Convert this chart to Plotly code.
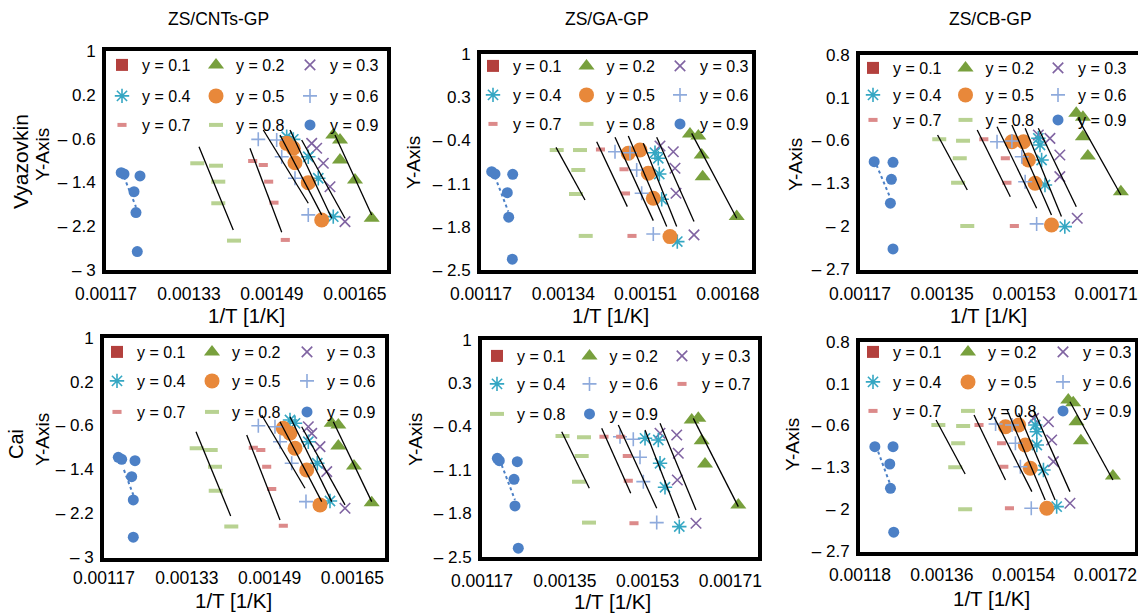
import plotly.graph_objects as go

W, H = 1138, 614
FONT = "Liberation Sans, Arial, Helvetica, sans-serif"

# ======================= DATA =======================
SERIES = [0.1, 0.2, 0.3, 0.4, 0.5, 0.6, 0.7, 0.8, 0.9]

# ---- Panel 1 : Vyazovkin, ZS/CNTs-GP ----
p1_s1_x = []
p1_s1_y = []
p1_s2_x = [0.0016082, 0.0016212, 0.0016212, 0.0016501, 0.0016823]
p1_s2_y = [-0.534, -0.626, -0.991, -1.356, -2.056]
p1_s3_x = [0.0015666, 0.0015762, 0.0015890, 0.0016019, 0.0016308]
p1_s3_y = [-0.686, -0.777, -1.051, -1.479, -2.118]
p1_s4_x = [0.0015184, 0.0015311, 0.0015600, 0.0015793, 0.0016082]
p1_s4_y = [-0.565, -0.613, -0.931, -1.325, -2.027]
p1_s5_x = [0.0015184, 0.0015311, 0.0015344, 0.0015600, 0.0015859]
p1_s5_y = [-0.686, -0.777, -1.040, -1.405, -2.087]
p1_s6_x = [0.0014636, 0.0014991, 0.0015088, 0.0015344, 0.0015600]
p1_s6_y = [-0.613, -0.626, -0.931, -1.325, -1.995]
p1_s7_x = [0.0014528, 0.0014733, 0.0014836, 0.0014939, 0.0015157]
p1_s7_y = [-1.009, -1.082, -1.387, -1.771, -2.452]
p1_s8_x = [0.0013460, 0.0013821, 0.0013865, 0.0013865, 0.0014168]
p1_s8_y = [-1.051, -1.095, -1.387, -1.782, -2.465]
p1_s9_x = [0.0011993, 0.0012047, 0.0012356, 0.0012240, 0.0012278, 0.0012303]
p1_s9_y = [-1.223, -1.247, -1.283, -1.570, -1.953, -2.666]
p1_f2_x = [0.0016115, 0.0016823]; p1_f2_y = [-0.534, -1.995]
p1_f3_x = [0.0015473, 0.0016308]; p1_f3_y = [-0.626, -2.056]
p1_f4_x = [0.0015248, 0.0016052]; p1_f4_y = [-0.443, -2.056]
p1_f5_x = [0.0015055, 0.0015859]; p1_f5_y = [-0.534, -1.995]
p1_f6_x = [0.0014733, 0.0015600]; p1_f6_y = [-0.443, -1.782]
p1_f7_x = [0.0014476, 0.0015088]; p1_f7_y = [-0.777, -2.311]
p1_f8_x = [0.0013493, 0.0014154]; p1_f8_y = [-0.748, -2.269]
p1_f9_x = [0.0012047, 0.0012278]; p1_f9_y = [-1.300, -1.850]

# ---- Panel 2 : Vyazovkin, ZS/GA-GP ----
p2_s1_x = []
p2_s1_y = []
p2_s2_x = [0.0016017, 0.0016189, 0.0016259, 0.0016279, 0.0016982]
p2_s2_y = [-0.296, -0.329, -0.637, -0.988, -1.636]
p2_s3_x = [0.0015397, 0.0015672, 0.0015707, 0.0015728, 0.0016100]
p2_s3_y = [-0.491, -0.583, -0.852, -1.257, -1.933]
p2_s4_x = [0.0015294, 0.0015362, 0.0015383, 0.0015433, 0.0015755]
p2_s4_y = [-0.599, -0.690, -0.944, -1.354, -2.041]
p2_s5_x = [0.0014743, 0.0014984, 0.0015156, 0.0015259, 0.0015604]
p2_s5_y = [-0.609, -0.556, -0.933, -1.338, -1.960]
p2_s6_x = [0.0014468, 0.0014778, 0.0014916, 0.0015019, 0.0015259]
p2_s6_y = [-0.583, -0.599, -0.880, -1.257, -1.917]
p2_s7_x = [0.0014168, 0.0014654, 0.0014685, 0.0014819]
p2_s7_y = [-0.547, -0.868, -1.260, -1.949]
p2_s8_x = [0.0013264, 0.0013745, 0.0013710, 0.0013662, 0.0013863]
p2_s8_y = [-0.556, -0.556, -0.880, -1.269, -1.949]
p2_s9_x = [0.0011921, 0.0011989, 0.0012355, 0.0012243, 0.0012272, 0.0012347]
p2_s9_y = [-0.907, -0.944, -0.949, -1.247, -1.646, -2.327]
p2_f2_x = [0.0016052, 0.0016982]; p2_f2_y = [-0.285, -1.662]
p2_f3_x = [0.0015329, 0.0016100]; p2_f3_y = [-0.350, -1.717]
p2_f4_x = [0.0015053, 0.0015742]; p2_f4_y = [-0.447, -1.798]
p2_f5_x = [0.0014743, 0.0015536]; p2_f5_y = [-0.329, -1.798]
p2_f6_x = [0.0014468, 0.0015259]; p2_f6_y = [-0.350, -1.701]
p2_f7_x = [0.0014090, 0.0014722]; p2_f7_y = [-0.421, -1.474]
p2_f8_x = [0.0013249, 0.0013848]; p2_f8_y = [-0.512, -1.366]
p2_f9_x = [0.0011989, 0.0012264]; p2_f9_y = [-0.988, -1.555]

# ---- Panel 3 : Vyazovkin, ZS/CB-GP ----
p3_s1_x = []
p3_s1_y = []
p3_s2_x = [0.0016446, 0.0016591, 0.0016591, 0.0016700, 0.0017424]
p3_s2_y = [-0.157, -0.222, -0.538, -0.852, -1.434]
p3_s3_x = [0.0015613, 0.0015867, 0.0016085, 0.0016085, 0.0016467]
p3_s3_y = [-0.510, -0.564, -0.836, -1.189, -1.867]
p3_s4_x = [0.0015613, 0.0015650, 0.0015685, 0.0015759, 0.0016194]
p3_s4_y = [-0.564, -0.673, -0.917, -1.324, -2.003]
p3_s5_x = [0.0015033, 0.0015287, 0.0015396, 0.0015541, 0.0015902]
p3_s5_y = [-0.620, -0.620, -0.917, -1.297, -1.976]
p3_s6_x = [0.0014707, 0.0015033, 0.0015250, 0.0015324, 0.0015576]
p3_s6_y = [-0.620, -0.608, -0.864, -1.271, -1.959]
p3_s7_x = [0.0014417, 0.0014889, 0.0014924, 0.0015087]
p3_s7_y = [-0.580, -0.890, -1.287, -1.992]
p3_s8_x = [0.0013439, 0.0013961, 0.0013889, 0.0013852, 0.0014054]
p3_s8_y = [-0.580, -0.603, -0.890, -1.287, -1.992]
p3_s9_x = [0.0012011, 0.0012424, 0.0012389, 0.0012367, 0.0012424]
p3_s9_y = [-0.945, -0.955, -1.232, -1.622, -2.366]
p3_f2_x = [0.0016483, 0.0017424]; p3_f2_y = [-0.239, -1.487]
p3_f3_x = [0.0015613, 0.0016446]; p3_f3_y = [-0.401, -1.678]
p3_f4_x = [0.0015324, 0.0016120]; p3_f4_y = [-0.401, -1.840]
p3_f5_x = [0.0015033, 0.0015902]; p3_f5_y = [-0.348, -1.813]
p3_f6_x = [0.0014707, 0.0015576]; p3_f6_y = [-0.375, -1.704]
p3_f7_x = [0.0014272, 0.0014998]; p3_f7_y = [-0.429, -1.515]
p3_f8_x = [0.0013402, 0.0014054]; p3_f8_y = [-0.510, -1.406]
p3_f9_x = [0.0012063, 0.0012367]; p3_f9_y = [-0.999, -1.541]

# ---- Panel 4 : Cai, ZS/CNTs-GP ----
p4_s1_x = []
p4_s1_y = []
p4_s2_x = [0.0016100, 0.0016228, 0.0016228, 0.0016531, 0.0016873]
p4_s2_y = [-0.560, -0.591, -0.973, -1.336, -2.004]
p4_s3_x = [0.0015648, 0.0015714, 0.0015874, 0.0016004, 0.0016357]
p4_s3_y = [-0.622, -0.742, -0.985, -1.440, -2.105]
p4_s4_x = [0.0015294, 0.0015391, 0.0015648, 0.0015822, 0.0016067]
p4_s4_y = [-0.500, -0.560, -0.895, -1.287, -1.973]
p4_s5_x = [0.0015165, 0.0015294, 0.0015391, 0.0015617, 0.0015874]
p4_s5_y = [-0.651, -0.742, -1.015, -1.409, -2.045]
p4_s6_x = [0.0014682, 0.0015004, 0.0015101, 0.0015327, 0.0015603]
p4_s6_y = [-0.604, -0.622, -0.895, -1.287, -1.985]
p4_s7_x = [0.0014585, 0.0014730, 0.0014844, 0.0014941, 0.0015165]
p4_s7_y = [-1.004, -1.045, -1.349, -1.755, -2.422]
p4_s8_x = [0.0013491, 0.0013762, 0.0013845, 0.0013859, 0.0014160]
p4_s8_y = [-1.015, -1.045, -1.349, -1.785, -2.440]
p4_s9_x = [0.0011976, 0.0012042, 0.0012299, 0.0012235, 0.0012266, 0.0012266]
p4_s9_y = [-1.178, -1.215, -1.240, -1.531, -1.955, -2.633]
p4_f2_x = [0.0016131, 0.0016873]; p4_f2_y = [-0.531, -1.985]
p4_f3_x = [0.0015520, 0.0016357]; p4_f3_y = [-0.622, -2.045]
p4_f4_x = [0.0015294, 0.0016100]; p4_f4_y = [-0.440, -1.985]
p4_f5_x = [0.0015101, 0.0015907]; p4_f5_y = [-0.531, -1.985]
p4_f6_x = [0.0014747, 0.0015584]; p4_f6_y = [-0.409, -1.742]
p4_f7_x = [0.0014458, 0.0015101]; p4_f7_y = [-0.773, -2.318]
p4_f8_x = [0.0013478, 0.0014148]; p4_f8_y = [-0.713, -2.245]
p4_f9_x = [0.0012086, 0.0012266]; p4_f9_y = [-1.409, -1.864]

# ---- Panel 5 : Cai, ZS/GA-GP (no y = 0.5 series) ----
p5_s1_x = []
p5_s1_y = []
p5_s2_x = [0.0016259, 0.0016402, 0.0016476, 0.0016548, 0.0017272]
p5_s2_y = [-0.295, -0.268, -0.629, -1.003, -1.663]
p5_s3_x = [0.0015570, 0.0015933, 0.0015967, 0.0015946, 0.0016352]
p5_s3_y = [-0.509, -0.537, -0.831, -1.261, -1.958]
p5_s4_x = [0.0015244, 0.0015533, 0.0015570, 0.0015678, 0.0015989]
p5_s4_y = [-0.590, -0.617, -0.992, -1.378, -2.012]
p5_s6_x = [0.0014700, 0.0014989, 0.0015135, 0.0015207, 0.0015498]
p5_s6_y = [-0.564, -0.606, -0.896, -1.288, -1.948]
p5_s7_x = [0.0014352, 0.0014715, 0.0014859, 0.0014880, 0.0015004]
p5_s7_y = [-0.564, -0.564, -0.875, -1.272, -1.958]
p5_s8_x = [0.0013450, 0.0013917, 0.0013867, 0.0013809, 0.0014026]
p5_s8_y = [-0.553, -0.574, -0.875, -1.288, -1.948]
p5_s9_x = [0.0012033, 0.0012076, 0.0012467, 0.0012396, 0.0012417, 0.0012489]
p5_s9_y = [-0.912, -0.950, -0.966, -1.250, -1.679, -2.360]
p5_f2_x = [0.0016294, 0.0017272]; p5_f2_y = [-0.268, -1.691]
p5_f3_x = [0.0015570, 0.0016352]; p5_f3_y = [-0.349, -1.744]
p5_f4_x = [0.0015244, 0.0015989]; p5_f4_y = [-0.456, -1.877]
p5_f6_x = [0.0014663, 0.0015498]; p5_f6_y = [-0.376, -1.716]
p5_f7_x = [0.0014302, 0.0014933]; p5_f7_y = [-0.429, -1.475]
p5_f8_x = [0.0013433, 0.0014033]; p5_f8_y = [-0.484, -1.394]
p5_f9_x = [0.0012128, 0.0012417]; p5_f9_y = [-1.020, -1.583]

# ---- Panel 6 : Cai, ZS/CB-GP ----
p6_s1_x = []
p6_s1_y = []
p6_s2_x = [0.0016382, 0.0016491, 0.0016563, 0.0016659, 0.0017364]
p6_s2_y = [-0.175, -0.220, -0.537, -0.853, -1.442]
p6_s3_x = [0.0015618, 0.0015945, 0.0016017, 0.0016055, 0.0016419]
p6_s3_y = [-0.480, -0.537, -0.842, -1.203, -1.897]
p6_s4_x = [0.0015655, 0.0015690, 0.0015690, 0.0015836, 0.0016127]
p6_s4_y = [-0.592, -0.703, -0.925, -1.342, -1.953]
p6_s5_x = [0.0015001, 0.0015291, 0.0015437, 0.0015546, 0.0015908]
p6_s5_y = [-0.620, -0.592, -0.925, -1.313, -1.980]
p6_s6_x = [0.0014783, 0.0015145, 0.0015219, 0.0015328, 0.0015568]
p6_s6_y = [-0.575, -0.592, -0.897, -1.287, -1.980]
p6_s7_x = [0.0014418, 0.0014914, 0.0014964, 0.0015088]
p6_s7_y = [-0.592, -0.897, -1.287, -1.980]
p6_s8_x = [0.0013524, 0.0014069, 0.0013960, 0.0013895, 0.0014113]
p6_s8_y = [-0.592, -0.608, -0.897, -1.297, -1.997]
p6_s9_x = [0.0012127, 0.0012527, 0.0012455, 0.0012470, 0.0012542]
p6_s9_y = [-0.953, -0.953, -1.242, -1.647, -2.380]
p6_f2_x = [0.0016419, 0.0017364]; p6_f2_y = [-0.203, -1.508]
p6_f3_x = [0.0015618, 0.0016419]; p6_f3_y = [-0.342, -1.703]
p6_f4_x = [0.0015291, 0.0016092]; p6_f4_y = [-0.397, -1.842]
p6_f5_x = [0.0015036, 0.0015873]; p6_f5_y = [-0.342, -1.842]
p6_f6_x = [0.0014746, 0.0015581]; p6_f6_y = [-0.453, -1.703]
p6_f7_x = [0.0014309, 0.0015001]; p6_f7_y = [-0.425, -1.508]
p6_f8_x = [0.0013474, 0.0014113]; p6_f8_y = [-0.508, -1.408]
p6_f9_x = [0.0012199, 0.0012455]; p6_f9_y = [-1.037, -1.563]

# axis ticks
x_ticks_cnt = [0.00117, 0.00133, 0.00149, 0.00165]
x_ticks_ga_v = [0.00117, 0.00134, 0.00151, 0.00168]
x_ticks_17_171 = [0.00117, 0.00135, 0.00153, 0.00171]
x_ticks_cb_cai = [0.00118, 0.00136, 0.00154, 0.00172]
y_ticks_cnt = [1, 0.2, -0.6, -1.4, -2.2, -3]
y_ticks_ga = [1, 0.3, -0.4, -1.1, -1.8, -2.5]
y_ticks_cb = [0.8, 0.1, -0.6, -1.3, -2, -2.7]

# ======================= STYLE =======================
STY = {
    0.1: dict(symbol="square", size=12, color="#B3403D"),
    0.2: dict(symbol="triangle-up", size=14, color="#78A03D"),
    0.3: dict(symbol="x-thin-open", size=10.5, color="#8064A2", line=dict(color="#8064A2", width=1.6)),
    0.4: dict(symbol="asterisk-open", size=12, color="#35A7C3", line=dict(color="#35A7C3", width=1.6)),
    0.5: dict(symbol="circle", size=15, color="#E8883A"),
    0.6: dict(symbol="cross-thin-open", size=10, color="#8EAADC", line=dict(color="#8EAADC", width=1.6)),
    0.7: dict(symbol="line-ew-open", size=6.5, color="#DC8A8A", line=dict(color="#DC8A8A", width=4)),
    0.8: dict(symbol="line-ew-open", size=10, color="#B8D292", line=dict(color="#B8D292", width=4)),
    0.9: dict(symbol="circle", size=11, color="#4C80C6"),
}

g = globals()
panels = []
for p in range(1, 7):
    ser = {}
    fits = {}
    for i, s in enumerate(SERIES, start=1):
        if f"p{p}_s{i}_x" in g:
            ser[s] = (g[f"p{p}_s{i}_x"], g[f"p{p}_s{i}_y"])
        if f"p{p}_f{i}_x" in g:
            fits[s] = (g[f"p{p}_f{i}_x"], g[f"p{p}_f{i}_y"])
    panels.append(dict(series=ser, fits=fits))

# layout geometry (pixels)
BOX = [  # left, right, top, bottom
    (106, 387, 51, 270),
    (481, 752, 54, 270),
    (860, 1138, 54.5, 269.5),
    (104, 385, 337.5, 557.5),
    (482, 758, 339.5, 557),
    (860, 1135, 341.5, 551.5),
]
XR = [(0.00117, 0.0017118), (0.00117, 0.0017298), (0.00117, 0.00178),
      (0.00117, 0.0017130), (0.00117, 0.00177), (0.00118, 0.001785)]
YR = [(-3, 1), (-2.5, 1), (-2.7, 0.8), (-3, 1), (-2.5, 1), (-2.7, 0.8)]
XT = [x_ticks_cnt, x_ticks_ga_v, x_ticks_17_171, x_ticks_cnt, x_ticks_17_171, x_ticks_cb_cai]
YT = [y_ticks_cnt, y_ticks_ga, y_ticks_cb, y_ticks_cnt, y_ticks_ga, y_ticks_cb]
YMIRROR = [True, True, False, True, True, True]
XSTANDOFF = [5, 5, 5, 1, 5, 4]

LEG_ROWS = [
    [[0.1, 0.2, 0.3], [0.4, 0.5, 0.6], [0.7, 0.8, 0.9]],
    [[0.1, 0.2, 0.3], [0.4, 0.5, 0.6], [0.7, 0.8, 0.9]],
    [[0.1, 0.2, 0.3], [0.4, 0.5, 0.6], [0.7, 0.8, 0.9]],
    [[0.1, 0.2, 0.3], [0.4, 0.5, 0.6], [0.7, 0.8, 0.9]],
    [[0.1, 0.2, 0.3], [0.4, 0.6, 0.7], [0.8, 0.9]],
    [[0.1, 0.2, 0.3], [0.4, 0.5, 0.6], [0.7, 0.8, 0.9]],
]
LEG_POS = [  # legend left edge x, row centres y, column spacing
    (102, [66, 97, 126], 94),
    (473, [67, 96, 125], 93.5),
    (853, [69, 96, 121], 92.5),
    (97, [353, 382, 413], 95),
    (477, [357, 385, 415], 92.5),
    (853, [353, 383, 412], 95),
]


def ytxt(v):
    s = f"{abs(v):g}"
    return ("\u2013 " + s) if v < 0 else s


fig = go.Figure()
layout = dict(
    width=W, height=H, margin=dict(l=0, r=0, t=0, b=0, autoexpand=False),
    paper_bgcolor="white", plot_bgcolor="white",
    font=dict(family=FONT, color="black"),
    showlegend=True,
)

leg_k = 0
for pi, pan in enumerate(panels):
    n = pi + 1
    xa = "x" if n == 1 else f"x{n}"
    ya = "y" if n == 1 else f"y{n}"
    l, r, t, b = BOX[pi]
    xr0, xr1 = XR[pi]
    yr0, yr1 = YR[pi]
    layout["xaxis" if n == 1 else f"xaxis{n}"] = dict(
        domain=[l / W, r / W], range=[xr0 - 1e-9, xr1], anchor=ya,
        tickvals=XT[pi], ticktext=[f"{v:.5f}" for v in XT[pi]],
        showline=True, linewidth=4, linecolor="black", mirror=True,
        showgrid=False, zeroline=False, ticks="", ticklabelstandoff=XSTANDOFF[pi],
        ticklabeloverflow="allow",
        tickfont=dict(size=17.5, color="black", family=FONT), fixedrange=True,
        automargin=False,
    )
    layout["yaxis" if n == 1 else f"yaxis{n}"] = dict(
        domain=[1 - b / H, 1 - t / H], range=[yr0 - 0.002, yr1 + 0.002], anchor=xa,
        tickvals=YT[pi], ticktext=[ytxt(v) for v in YT[pi]],
        showline=True, linewidth=4, linecolor="black", mirror=YMIRROR[pi],
        showgrid=False, zeroline=False, ticks="", ticklabelstandoff=3,
        ticklabeloverflow="allow",
        tickfont=dict(size=17, color="black", family=FONT), fixedrange=True,
        automargin=False,
    )
    lx, rows_y, sp = LEG_POS[pi]
    for ri, row in enumerate(LEG_ROWS[pi]):
        leg_k += 1
        lname = "legend" if leg_k == 1 else f"legend{leg_k}"
        layout[lname] = dict(
            x=lx / W, y=1 - (rows_y[ri] - 1) / H, xanchor="left", yanchor="middle",
            orientation="h", entrywidth=sp - 45, entrywidthmode="pixels",
            bgcolor="rgba(0,0,0,0)", borderwidth=0, tracegroupgap=0,
            font=dict(size=16, color="black", family=FONT),
            itemclick=False, itemdoubleclick=False,
        )
        for s in row:
            xs, ys = pan["series"][s]
            fig.add_trace(go.Scatter(
                x=xs if xs else [None], y=ys if ys else [None], mode="markers",
                marker=STY[s], name=f"y = {s}", legend=lname,
                xaxis=xa, yaxis=ya, showlegend=True, hoverinfo="skip",
            ))
    for s, (fx, fy) in pan["fits"].items():
        if s == 0.9:
            ln = dict(color=STY[0.9]["color"], width=2, dash="dot")
        else:
            ln = dict(color="black", width=1.3)
        fig.add_trace(go.Scatter(x=fx, y=fy, mode="lines", line=ln,
                                 xaxis=xa, yaxis=ya, showlegend=False, hoverinfo="skip"))

ANN = [
    ("ZS/CNTs-GP", 218, 19, 17.5, 0), ("ZS/GA-GP", 607, 19, 17.5, 0), ("ZS/CB-GP", 990, 19, 17.5, 0),
    ("Vyazovkin", 20, 162, 21, -90), ("Y-Axis", 42, 155, 19, -90),
    ("Y-Axis", 413, 163, 19, -90), ("Y-Axis", 795, 165, 19, -90),
    ("Cai", 16, 444, 20, -90), ("Y-Axis", 42, 440, 19, -90),
    ("Y-Axis", 415, 440, 19, -90), ("Y-Axis", 792, 445, 19, -90),
    ("1/T [1/K]", 246, 315, 20.5, 0), ("1/T [1/K]", 610, 315, 20.5, 0), ("1/T [1/K]", 988, 315, 20.5, 0),
    ("1/T [1/K]", 233, 600, 20.5, 0), ("1/T [1/K]", 612, 601, 20.5, 0), ("1/T [1/K]", 991, 598, 20.5, 0),
]
layout["annotations"] = [
    dict(text=t, x=x / W, y=1 - y / H, xref="paper", yref="paper", showarrow=False,
         xanchor="center", yanchor="middle", textangle=a,
         font=dict(size=sz, color="black", family=FONT))
    for t, x, y, sz, a in ANN
]

fig.update_layout(**layout)
fig.write_html("out.html")
